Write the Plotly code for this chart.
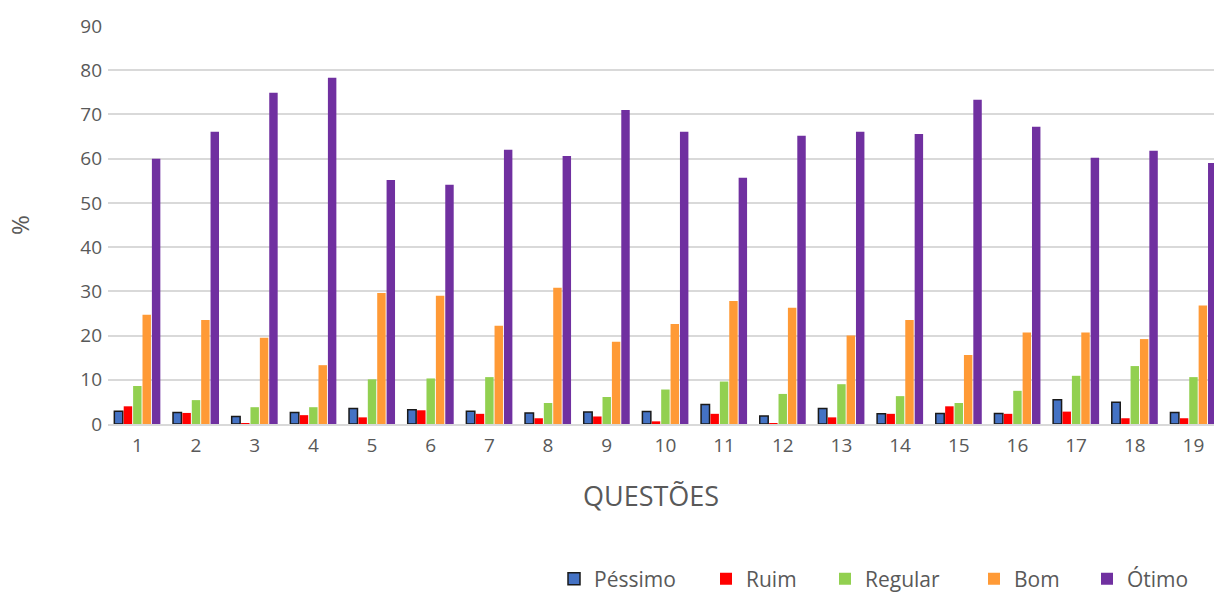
import plotly.graph_objects as go

questoes = list(range(1, 20))
tick_labels = [str(q) for q in questoes]

pessimo = [2.9, 2.6, 1.7, 2.6, 3.5, 3.2, 2.9, 2.5, 2.7, 2.8, 4.4, 1.8, 3.5, 2.3, 2.4, 2.4, 5.5, 4.9, 2.6]
ruim = [4.0, 2.5, 0.2, 2.0, 1.5, 3.1, 2.3, 1.3, 1.7, 0.6, 2.3, 0.2, 1.5, 2.3, 4.0, 2.3, 2.8, 1.3, 1.3]
regular = [8.6, 5.4, 3.8, 3.8, 10.1, 10.3, 10.6, 4.75, 6.1, 7.8, 9.6, 6.8, 9.0, 6.3, 4.75, 7.5, 10.9, 13.1, 10.6]
bom = [24.7, 23.5, 19.5, 13.3, 29.6, 29.0, 22.2, 30.8, 18.6, 22.6, 27.8, 26.3, 20.0, 23.5, 15.6, 20.7, 20.7, 19.2, 26.8]
otimo = [60.0, 66.1, 74.9, 78.3, 55.2, 54.1, 62.0, 60.6, 71.0, 66.1, 55.7, 65.2, 66.1, 65.6, 73.3, 67.2, 60.2, 61.8, 59.0]

series_names = ["Péssimo", "Ruim", "Regular", "Bom", "Ótimo"]
series_values = [pessimo, ruim, regular, bom, otimo]
series_colors = ["#4472C4", "#FF0000", "#92D050", "#FF9A36", "#7030A0"]
legend_ids = ["legend", "legend2", "legend3", "legend4", "legend5"]
legend_x_px = [554, 706, 825, 974, 1087]

font_color = "#595959"
W, H = 1214, 593

fig = go.Figure()
for i, (name, vals, color) in enumerate(zip(series_names, series_values, series_colors)):
    line = dict(color="#1a1a1a", width=1.5) if i == 0 else dict(width=0)
    fig.add_trace(go.Bar(x=questoes, y=vals, name=name, legend=legend_ids[i],
                         marker=dict(color=color, line=line)))

legends = {}
for lid, lx in zip(legend_ids, legend_x_px):
    legends[lid] = dict(orientation="h", xref="container", yref="container",
                        x=lx / W, y=1 - 579 / H, xanchor="left", yanchor="middle",
                        bgcolor="rgba(0,0,0,0)",
                        font=dict(size=21, color=font_color, family="Open Sans"))

fig.update_layout(
    width=W, height=H,
    margin=dict(l=108, r=0, t=26, b=169, autoexpand=False),
    plot_bgcolor="white", paper_bgcolor="white",
    barmode="group", bargap=0.2, bargroupgap=0.1,
    font=dict(family="Open Sans", color=font_color, size=19),
    showlegend=True,
    xaxis=dict(
        range=[0.5, 19.35], tickmode="array", tickvals=questoes, ticktext=tick_labels,
        showgrid=False, showline=True, linecolor="#D9D9D9", linewidth=1.5,
        ticks="", tickfont=dict(size=19, color=font_color), automargin=False,
        ticklabelstandoff=3,
    ),
    yaxis=dict(
        range=[0, 90], dtick=10, showgrid=True, gridcolor="#D9D9D9", gridwidth=1.5,
        zeroline=False, ticks="", tickfont=dict(size=19, color=font_color), automargin=False,
        ticklabelstandoff=5,
        title=dict(text="%", font=dict(size=24, color=font_color), standoff=43),
    ),
    annotations=[dict(text="QUESTÕES", xref="paper", yref="paper",
                      x=(651 - 108) / (W - 108), y=-(495 - 424) / (424 - 26),
                      xanchor="center", yanchor="middle", showarrow=False,
                      font=dict(size=27, color=font_color, family="Open Sans"))],
    **legends,
)

fig.write_html("out.html", config={"displayModeBar": False},
               post_script="document.body.style.margin='0';document.body.style.overflow='hidden';")
